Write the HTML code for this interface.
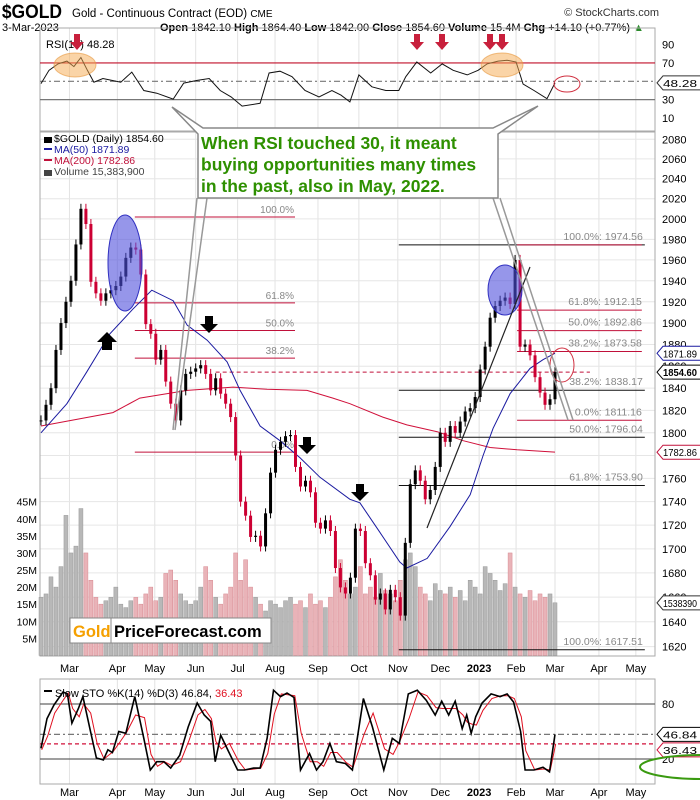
<!DOCTYPE html>
<html><head><meta charset="utf-8"><style>
html,body{margin:0;padding:0;background:#fff;}
svg{display:block;font-family:"Liberation Sans",sans-serif;}
</style></head><body>
<svg id="c" width="700" height="800" viewBox="0 0 700 800" xmlns="http://www.w3.org/2000/svg">
<rect x="0" y="0" width="700" height="800" fill="#fff"/>
<g>
<text x="2" y="18" font-size="19" font-weight="bold" transform="scale(0.92,1)">$GOLD</text>
<text x="72" y="17" font-size="11.5">Gold - Continuous Contract (EOD) <tspan font-size="10">CME</tspan></text>
<text x="2" y="31" font-size="11">3-Mar-2023</text>
<text x="160" y="31" font-size="11"><tspan font-weight="bold">Open</tspan> 1842.10 <tspan font-weight="bold">High</tspan> 1864.40 <tspan font-weight="bold">Low</tspan> 1842.00 <tspan font-weight="bold">Close</tspan> 1854.60 <tspan font-weight="bold">Volume</tspan> 15.4M <tspan font-weight="bold">Chg</tspan> +14.10 (+0.77%) <tspan fill="#2a8a2a">▲</tspan></text>
<text x="659" y="16" font-size="11" text-anchor="end" fill="#333">© StockCharts.com</text>
</g>
<g id="grid"></g>
<g id="rsi"></g>
<g id="main"></g>
<g id="sto"></g>
<g id="ann"></g>
</svg>
<script>
// ---- data ----
const closes=[1811,1825,1840,1875,1900,1920,1940,1975,2010,1995,1939,1928,1921,1928,1931,1935,1944,1962,1972,1970,1946,1899,1890,1866,1875,1846,1826,1811,1838,1853,1855,1858,1861,1853,1838,1849,1835,1826,1814,1780,1740,1728,1710,1711,1702,1730,1765,1785,1792,1797,1798,1770,1753,1758,1748,1722,1717,1724,1715,1684,1668,1663,1676,1717,1715,1688,1678,1658,1663,1650,1666,1660,1645,1705,1755,1767,1758,1742,1750,1770,1800,1792,1806,1800,1810,1819,1822,1832,1857,1878,1905,1916,1921,1924,1918,1960,1878,1880,1870,1850,1836,1825,1830,1854.6];
const volumes=[17,18,23,20,26,41,30,32,43,30,22,17,15,16,17,20,15,14,16,17,15,18,20,16,17,24,25,22,18,16,15,16,20,26,22,17,15,18,20,30,22,28,20,17,15,13,16,15,14,16,17,15,16,14,18,15,16,14,17,23,28,22,18,20,26,18,20,17,24,19,18,16,22,28,30,26,20,18,16,21,19,18,20,17,19,16,22,20,18,26,24,22,19,21,30,20,18,17,19,16,18,17,18,15.4];
const ma50T=[0,5.2,9.2,13.8,18.4,22.2,26.5,29.3,33.3,37.3,39.9,43.9,47.9,51.9,55.9,61.9,63.9,67.9,71.9,73.3,77.4,82,86,88.6,90.6,94,98,100.6,103];
const ma50Val=[1800,1826,1855,1890,1913,1931,1921,1898,1884,1864,1838,1806,1793,1778,1761,1742,1739,1714,1689,1684,1692,1719,1746,1780,1804,1835,1858,1866,1872];
const ma200T=[0,14.4,19.8,29.3,38.5,45.3,53.3,58.5,61.9,68.5,73.3,79.4,84.6,90,95.4,103];
const ma200Val=[1806,1818,1831,1838,1841,1839,1838,1831,1826,1814,1807,1801,1793,1787,1785,1783];
const rsiT=[0,1.6,3.4,5.2,6.6,8,9.3,10.6,12.4,14.2,16,18.2,20.6,23.2,26.5,28.6,31.3,33.7,35.9,38.1,40.3,43.9,45.7,47.9,50.3,52.9,55.7,58.3,60.1,61.9,63.7,66.3,69.1,71.7,73.1,75.3,78.1,80.4,82.6,85.4,87.6,89.4,91.6,93.4,95.2,96.6,98.8,101.4,103];
const rsiVal=[47.5,62,69,72,66,76,62,49,53,51,49,60,40,37,30.6,48,51,53,40,33,23,26,59,61,55,40,33,40,35,27.5,57,44,40,40,55,71,59,69,62,57,62,69,72,73,71,47,40,31,48.28];
const stoT=[0,1.2,2.6,4.4,5.3,6.2,7.5,8.4,9.8,11.1,12.5,13.4,14.3,15.6,17,18.8,20.6,21.9,23.2,24.6,26,27.8,29.5,31.3,32.7,34,34.9,36,37.6,39.4,40.8,42.6,43.9,45.3,46.6,48,49.3,50.7,52,53.8,55.2,56.5,57.9,59.2,61,62.4,64.6,66.4,68.7,70.4,71.8,73.6,75.4,77.2,79,80.3,81.7,83,84.4,85.3,86.2,87.1,88.4,90.2,92,93.4,94.7,96.1,97,98.8,100.6,101.9,103];
const stoK=[31.6,64,79,93,91,59,75,88,53,21,19,30,27,50,48,88,42.5,8,17,17,10,24,55,81,68,61,17,46,28,8,8,10,10,42.5,95,88,92,87,8,26,8,17,37,17,15,8,86,55,8,42.5,37,91,95,84,68,83,68,83,53,68,48,66,81,91,88,91,82,50,8,8,11,6,46.84];
const stoD=[30,45,70,85,92,75,66,80,70,37,20,24,28,38,49,68,65,25,12,17,13,17,40,68,74,64,39,31,37,18,8,9,10,26,69,91,90,89,48,17,17,12,27,27,16,11,47,70,31,25,40,64,93,89,76,75,75,75,68,60,58,57,73,86,89,89,86,66,29,8,9,8,36.43];
const priceTicks=[2080,2060,2040,2020,2000,1980,1960,1940,1920,1900,1880,1860,1840,1820,1800,1780,1760,1740,1720,1700,1680,1660,1640,1620];
const volTicks=[5,10,15,20,25,30,35,40,45];
const volTickLabels=["5M","10M","15M","20M","25M","30M","35M","40M","45M"];
const monthT=[5.7,15.3,22.8,31,39.4,46.9,55.5,63.7,71.5,80,87.8,95.2,103,111.8,119.2];
const monthLabels=["Mar","Apr","May","Jun","Jul","Aug","Sep","Oct","Nov","Dec","2023","Feb","Mar","Apr","May"];
const fibLeftLevels=[2001.9,1919,1893,1867.5,1783];
const fibLeftLabels=["100.0%","61.8%","50.0%","38.2%","0.0%"];
const fibRightBlack=[1974.56,1838.17,1796.04,1753.90,1617.51];
const fibRightBlackLabels=["100.0%: 1974.56","38.2%: 1838.17","50.0%: 1796.04","61.8%: 1753.90","100.0%: 1617.51"];
const fibRightRed=[1974.56,1912.15,1892.86,1873.58,1811.16];
const fibRightRedLabels=["","61.8%: 1912.15","50.0%: 1892.86","38.2%: 1873.58","0.0%: 1811.16"];

// ---- axes ----
const NS="http://www.w3.org/2000/svg";
const L=40,R=655;
const X=t=>41+t*(514/103);
const Y=p=>139.3+(Math.log(2080)-Math.log(p))*2030;
const VY=v=>655.4-v*3.415;
const RY=v=>81.3-(v-50)*0.917;
const SY=v=>777.3-v*0.9167;
function mk(parent,tag,attrs){const e=document.createElementNS(NS,tag);for(const k in attrs)e.setAttribute(k,attrs[k]);document.getElementById(parent).appendChild(e);return e;}
function pts(ts,vs,f){return ts.map((t,i)=>X(t).toFixed(1)+","+f(vs[i]).toFixed(1)).join(" ");}

let e;
[[28,131],[132,656],[679,784]].forEach(([a,b])=>{
  monthT.forEach(t=>{e=mk('grid','line',{x1:X(t),x2:X(t),y1:a,y2:b,stroke:'#e2e2e2'});
  
  });
});
priceTicks.forEach(p=>{
  e=mk('grid','line',{x1:L,x2:R,y1:Y(p),y2:Y(p),stroke:'#e6e6e6'});
  
  
  e=mk('grid','text',{x:662,y:Y(p)+4,'font-size':11});e.textContent=p;
  
  
});
[[28,131],[132,656],[679,784]].forEach(([a,b])=>{
  e=mk('grid','rect',{x:L,y:a,width:R-L,height:b-a,fill:'none',stroke:'#aaa'});
  
  
});
monthT.forEach((t,i)=>{
  [672,796].forEach(y=>{
    e=mk('grid','text',{x:X(t),y:y,'font-size':11,'text-anchor':'middle','font-weight':monthLabels[i]==='2023'?'bold':'normal'});
    e.textContent=monthLabels[i];
    
    
  });
});

// ---- RSI ----
[[70,'#c0102a','none'],[30,'#777','none'],[50,'#777','6,3,2,3']].forEach(([v,c,d])=>{
  e=mk('rsi','line',{x1:L,x2:R,y1:RY(v),y2:RY(v),stroke:c,'stroke-width':1.2,'stroke-dasharray':d});
  
  
});
[90,70,30,10].forEach(v=>{e=mk('rsi','text',{x:662,y:RY(v)+4,'font-size':11});e.textContent=v;
  
  });
e=mk('rsi','polyline',{points:pts(rsiT,rsiVal,RY),fill:'none',stroke:'#111','stroke-width':1});


e=mk('rsi','text',{x:46,y:48,'font-size':11});e.textContent='RSI(14) 48.28';



function tag(g,y,txt,stroke,bold,name){
  e=mk(g,'path',{d:`M${R+2},${y} l6,-7 h40 v14 h-40 z`,fill:'#fff',stroke:stroke});
  
  
  e=mk(g,'text',{x:663,y:y+4,'font-size':10.5,'font-weight':bold?'bold':'normal',textLength:34,lengthAdjust:'spacingAndGlyphs'});e.textContent=txt;
  
  
}
tag('rsi',RY(48.28),'48.28','#333',false,'rsi-value-label');

// ---- volume ----
volumes.forEach((v,i)=>{
  const down=i>0&&closes[i]<closes[i-1];
  e=mk('main','rect',{x:X(i)-2,y:VY(v),width:4,height:655.4-VY(v),fill:down?'#e9b3b8':'#b8b8b8',stroke:down?'#d88a92':'#999','stroke-width':0.5});
  
  
});
volTicks.forEach((v,i)=>{e=mk('main','text',{x:37,y:VY(v)+4,'font-size':10.5,'text-anchor':'end'});e.textContent=volTickLabels[i];
  
  });

// ---- fib lines ----
fibLeftLevels.forEach((p,i)=>{
  e=mk('main','line',{x1:X(18.8),x2:X(50.9),y1:Y(p),y2:Y(p),stroke:'#c0103a','stroke-width':1});
  
  
  e=mk('main','text',{x:X(50.7),y:Y(p)-4,'font-size':10,fill:'#888','text-anchor':'end'});e.textContent=fibLeftLabels[i];
  
  
});
fibRightBlack.forEach((p,i)=>{
  e=mk('main','line',{x1:X(71.7),x2:X(121),y1:Y(p),y2:Y(p),stroke:'#111','stroke-width':1});
  
  
  e=mk('main','text',{x:X(120.6),y:Y(p)-5,'font-size':10.5,fill:'#888','text-anchor':'end'});e.textContent=fibRightBlackLabels[i];
  
  
});
fibRightRed.forEach((p,i)=>{
  e=mk('main','line',{x1:X(95.4),x2:X(120.4),y1:Y(p),y2:Y(p),stroke:'#c0103a','stroke-width':1});
  
  
  if(fibRightRedLabels[i]){e=mk('main','text',{x:X(120.4),y:Y(p)-5,'font-size':10.5,fill:'#888','text-anchor':'end'});e.textContent=fibRightRedLabels[i];
  
  }
});
e=mk('main','line',{x1:X(35),x2:X(110),y1:Y(1854.6),y2:Y(1854.6),stroke:'#c0103a','stroke-dasharray':'4,3'});



// ---- moving averages ----
e=mk('main','polyline',{points:pts(ma200T,ma200Val,Y),fill:'none',stroke:'#d0103a','stroke-width':1});


e=mk('main','polyline',{points:pts(ma50T,ma50Val,Y),fill:'none',stroke:'#1a1aa0','stroke-width':1});



// ---- price bars ----
closes.forEach((c,i)=>{
  const p=i>0?closes[i-1]:c;
  const down=c<p;
  const y1=Y(Math.max(c,p)),y2=Y(Math.min(c,p));
  e=mk('main','line',{x1:X(i),x2:X(i),y1:y1-5,y2:y2+5,stroke:down?'#cc0033':'#000','stroke-width':1});
  
  
  e=mk('main','rect',{x:X(i)-1.5,y:y1,width:3,height:Math.max(1,y2-y1),fill:down?'#cc0033':'#000'});
  
  
});

tag('main',Y(1871.89),'1871.89','#1a1aa0',false,'ma50-value-label');
tag('main',Y(1854.6),'1854.60','#000',true,'last-price-label');
tag('main',Y(1782.86),'1782.86','#c0103a',false,'ma200-value-label');
tag('main',VY(15.3839),'1538390','#333',false,'volume-value-label');

// legend
[['$GOLD (Daily) 1854.60','#000',142],['MA(50) 1871.89','#1a1aa0',153],['MA(200) 1782.86','#c0103a',164],['Volume 15,383,900','#444',175]].forEach(([t,c,y],i)=>{
  e=mk('main','text',{x:54,y:y,'font-size':10.5,fill:c});e.textContent=t;
  
  
  e=mk('main','rect',{x:44,y:y-5,width:8,height:i==0||i==3?6:2,fill:c});
  
  
});

// ---- STO ----
[[80,'#666','none'],[20,'#666','none'],[46.84,'#777','6,3,2,3'],[36.43,'#d0103a','4,3']].forEach(([v,c,d])=>{
  e=mk('sto','line',{x1:L,x2:R,y1:SY(v),y2:SY(v),stroke:c,'stroke-width':1.2,'stroke-dasharray':d});
  
  
});
[80,20].forEach(v=>{e=mk('sto','text',{x:662,y:SY(v)+4,'font-size':11});e.textContent=v;
  
  });
e=mk('sto','polyline',{points:stoT.map((t,i)=>X(t+0.15).toFixed(1)+","+SY(stoD[i]).toFixed(1)).join(" "),fill:'none',stroke:'#e01020','stroke-width':1});


e=mk('sto','polyline',{points:pts(stoT,stoK,SY),fill:'none',stroke:'#000','stroke-width':1.6});


e=mk('sto','text',{x:55,y:697,'font-size':11});e.innerHTML='Slow STO %K(14) %D(3) 46.84, <tspan fill="#e01020">36.43</tspan>';


e=mk('sto','rect',{x:44,y:690,width:8,height:2,fill:'#000'});


tag('sto',SY(46.84),'46.84','#000',false,'sto-k-value-label');
tag('sto',SY(36.43)+6,'36.43','#d0103a',false,'sto-d-value-label');

// ---- annotations ----
const A='ann';
[[75,65],[502,65]].forEach(([x,y])=>{e=mk(A,'ellipse',{cx:x,cy:y,rx:21,ry:12,fill:'rgba(245,170,80,0.5)',stroke:'rgba(230,150,60,0.6)'});
  
  });
e=mk(A,'ellipse',{cx:567,cy:84,rx:13,ry:8,fill:'none',stroke:'#d03040'});


[77,417,442,490,502].forEach(x=>{e=mk(A,'path',{d:`M${x-3},34 h6 v8 h4 l-7,8 l-7,-8 h4 z`,fill:'#c8203c'});
  
  });
[[125,263,17,48],[505,290,17,25]].forEach(([x,y,rx,ry])=>{e=mk(A,'ellipse',{cx:x,cy:y,rx:rx,ry:ry,fill:'rgba(80,80,220,0.6)',stroke:'#3030c0'});
  
  });
e=mk(A,'ellipse',{cx:562,cy:365,rx:12,ry:17,fill:'none',stroke:'#d03040'});


e=mk(A,'ellipse',{cx:702,cy:767,rx:62,ry:12,fill:'none',stroke:'#3a9a10','stroke-width':2});


e=mk(A,'path',{d:'M102,350 h10 v-8 h5 l-10,-10 l-10,10 h5 z',fill:'#000'});


[[209,316],[307,437],[360,484]].forEach(([x,y])=>{e=mk(A,'path',{d:`M${x-4},${y} h8 v8 h5 l-9,9 l-9,-9 h5 z`,fill:'#000'});
  
  });
e=mk(A,'line',{x1:427,y1:528,x2:530,y2:267,stroke:'#222','stroke-width':1.2});


[[197,198,173,430],[207,198,175,430],[493,198,568,420],[500,198,573,420]].forEach(([a,b,c,d])=>{e=mk(A,'line',{x1:a,y1:b,x2:c,y2:d,stroke:'#999','stroke-width':1.5});
  
  });
e=mk(A,'path',{d:'M172,107 L203,128 L493,128 L538,106 L498,134 L498,198 L198,198 L198,134 Z',fill:'#fff',stroke:'#888','stroke-width':1.5});


['When RSI touched 30, it meant','buying opportunities many times','in the past, also in May, 2022.'].forEach((t,i)=>{
  e=mk(A,'text',{x:201,y:149+i*21.5,'font-size':17.5,'font-weight':'bold',fill:'#2e9000'});e.textContent=t;
  
  
});
e=mk(A,'rect',{x:70,y:618,width:201,height:25,fill:'#fff',stroke:'#888'});


e=mk(A,'line',{x1:111,y1:618,x2:111,y2:643,stroke:'#888'});


e=mk(A,'text',{x:73,y:637,'font-size':16.5,'font-weight':'bold',fill:'#f5a000'});e.textContent='Gold';


e=mk(A,'text',{x:114,y:637,'font-size':16.5,'font-weight':'bold',fill:'#000'});e.textContent='PriceForecast.com';


</script>
</body></html>
